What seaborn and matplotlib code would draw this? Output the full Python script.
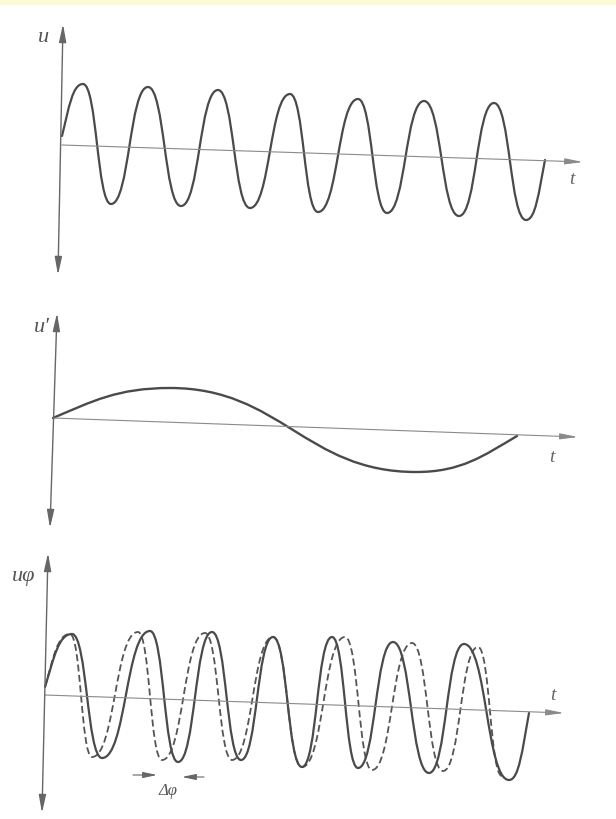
import matplotlib
matplotlib.use("Agg")
import matplotlib.pyplot as plt
from matplotlib.path import Path
from matplotlib.patches import PathPatch
import seaborn as sns

# -----------------------------
# Values (image pixels, y grows downward)
# -----------------------------

# panel 1: carrier u(t) -- start, alternating peaks/troughs, end
u_x = [62, 83, 111, 148, 181, 218, 250, 290, 318, 358, 387, 424, 459, 494, 526, 545]
u_y = [136, 84, 204, 87, 206, 90, 208, 94, 212, 99, 213, 101, 216, 103, 220, 160]

# panel 2: modulating signal u'(t)
m_x = [53, 170, 416, 517]
m_y = [418, 388, 472, 436]

# panel 3: phase modulated u_phi (solid) and unmodulated carrier (dashed)
pm_x = [45, 72, 102, 150, 178, 212, 241, 273, 302, 332, 358, 393, 429, 464, 509, 529]
pm_y = [687, 634, 758, 631, 762, 632, 760, 637, 767, 637, 768, 642, 773, 644, 780, 713]
ref_x = [45, 70, 92, 138, 162, 205, 232, 273, 302, 345, 372, 412, 443, 478, 502]
ref_y = [687, 634, 757, 632, 760, 633, 760, 637, 767, 637, 770, 643, 771, 647, 776]

# axes of each panel: (y-axis bottom, y-axis top, baseline start, baseline end)
axes_geom = [
    ((58, 275), (63, 24), (62, 145), (583, 162)),
    ((50, 528), (57, 313), (53, 418), (578, 437)),
    ((42, 813), (48, 553), (45, 695), (564, 713)),
]
axis_labels = [("u", 43, 37), ("u\u2032", 42, 327), ("u\u03c6", 24, 577)]
t_labels = [(572, 180), (552, 457), (553, 695)]

CURVE = "#4a4a4a"
THIN = "#8a8a8a"
AXIS = "#666666"
SERIF = ["Liberation Serif", "DejaVu Serif"]


def wave_path(xs, ys, start_zero=True, end_zero=True, k=0.5):
    # bezier through the read extrema: flat tangent at peaks, steep at zero points
    verts = [(xs[0], ys[0])]
    codes = [Path.MOVETO]
    n = len(xs)
    for i in range(n - 1):
        x0, y0, x1, y1 = xs[i], ys[i], xs[i + 1], ys[i + 1]
        dx, dy = x1 - x0, y1 - y0
        if i == 0 and start_zero:
            c1 = (x0 + dx / 3, y0 + dy * 0.55)
        else:
            c1 = (x0 + k * dx, y0)
        if i == n - 2 and end_zero:
            c2 = (x1 - dx / 3, y1 - dy * 0.55)
        else:
            c2 = (x1 - k * dx, y1)
        verts += [c1, c2, (x1, y1)]
        codes += [Path.CURVE4] * 3
    return Path(verts, codes)


sns.set_theme(style="white")
plt.rcParams["lines.scale_dashes"] = False

fig = plt.figure(figsize=(6.16, 8.19), dpi=100)
ax = fig.add_axes([0, 0, 1, 1])
ax.set_xlim(0, 616)
ax.set_ylim(819, 0)
ax.axis("off")
ax.axhspan(0, 5, color="#fdfbd3", lw=0)

for (yb, yt, b0, b1), (lab, lx, ly), (tx, ty) in zip(axes_geom, axis_labels, t_labels):
    # vertical axis, arrows at both ends
    ax.annotate("", xy=yt, xytext=yb,
                arrowprops=dict(arrowstyle="<|-|>,head_length=0.9,head_width=0.18",
                                color=AXIS, lw=1.0, shrinkA=0, shrinkB=0))
    # time axis
    sns.lineplot(x=[b0[0], b1[0] - 8], y=[b0[1], b1[1] - 0.3], ax=ax,
                 color=THIN, lw=0.8, sort=False, estimator=None)
    ax.annotate("", xy=b1, xytext=(b1[0] - 14, b1[1] - 0.5),
                arrowprops=dict(arrowstyle="-|>,head_length=0.9,head_width=0.15",
                                color=THIN, lw=0.8, shrinkA=0, shrinkB=0))
    ax.text(lx, ly, lab, ha="center", va="center", fontsize=16,
            style="italic", family=SERIF, color="#555555")
    ax.text(tx, ty, "t", ha="center", va="center", fontsize=14,
            style="italic", family=SERIF, color="#666666")

ax.add_patch(PathPatch(wave_path(u_x, u_y), fill=False, ec=CURVE, lw=1.6,
                       capstyle="round", joinstyle="round"))
ax.add_patch(PathPatch(wave_path(m_x, m_y, k=0.45), fill=False, ec=CURVE, lw=1.7,
                       capstyle="round"))
ax.add_patch(PathPatch(wave_path(ref_x, ref_y, end_zero=False), fill=False,
                       ec="#555555", lw=1.3, ls=(0, (5, 2.5))))
ax.add_patch(PathPatch(wave_path(pm_x, pm_y), fill=False, ec=CURVE, lw=1.6,
                       capstyle="round", joinstyle="round"))

# phase shift marker
ax.annotate("", xy=(157, 775), xytext=(133, 775),
            arrowprops=dict(arrowstyle="-|>,head_length=0.7,head_width=0.15",
                            color=AXIS, lw=0.8, shrinkA=0, shrinkB=0))
ax.annotate("", xy=(182, 777), xytext=(204, 777),
            arrowprops=dict(arrowstyle="-|>,head_length=0.7,head_width=0.15",
                            color=AXIS, lw=0.8, shrinkA=0, shrinkB=0))
ax.text(168, 791, "\u0394\u03c6", ha="center", va="center", fontsize=12,
        style="italic", family=SERIF, color="#555555")

fig.savefig("out.png", dpi=100)
